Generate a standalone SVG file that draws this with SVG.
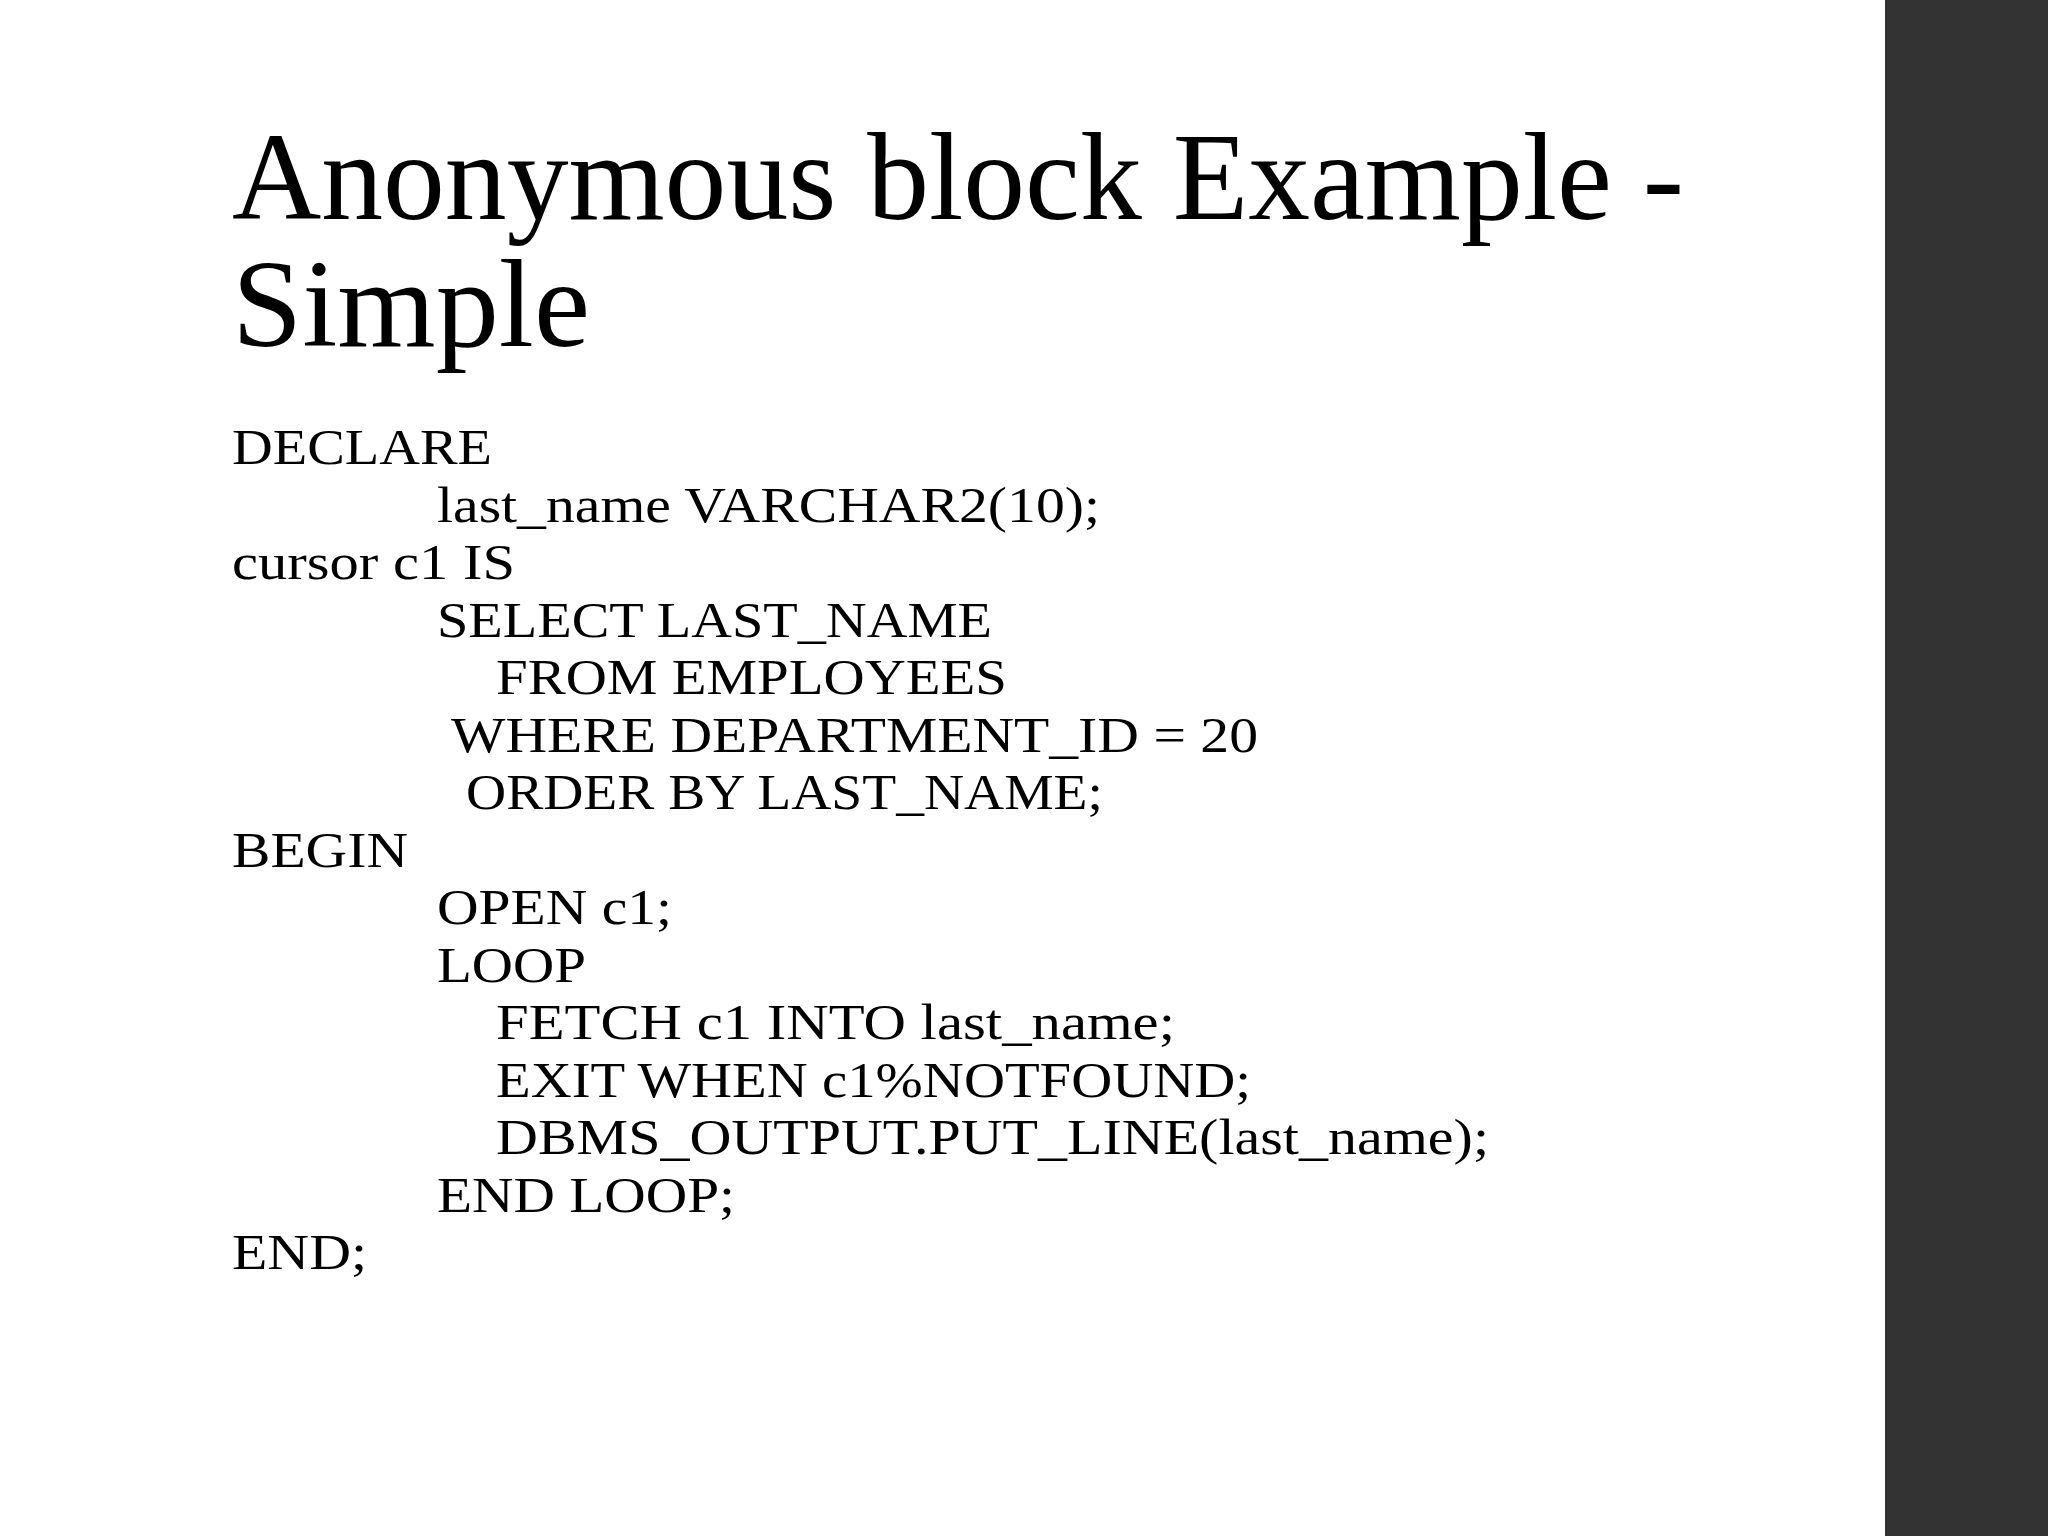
<svg xmlns="http://www.w3.org/2000/svg" width="2048" height="1536" viewBox="0 0 2048 1536">
<style>
.t{font-family:"Liberation Serif","DejaVu Serif",serif;fill:#000}
.h{font-size:124px}
.c{font-size:50px}
</style>
<rect x="0" y="0" width="2048" height="1536" fill="#fff"/>
<rect x="1885" y="0" width="163" height="1536" fill="#333"/>
<g id="title">
<text class="t h" x="232" y="219" textLength="1452" lengthAdjust="spacingAndGlyphs">Anonymous block Example -</text>
<text class="t h" x="232" y="346" textLength="358" lengthAdjust="spacingAndGlyphs">Simple</text>
</g>
<g id="code" class="t c">
<text x="232" y="464" textLength="260" lengthAdjust="spacingAndGlyphs">DECLARE</text>
<text x="437" y="521.5" textLength="663" lengthAdjust="spacingAndGlyphs">last_name VARCHAR2(10);</text>
<text x="232" y="579" textLength="283" lengthAdjust="spacingAndGlyphs">cursor c1 IS</text>
<text x="437" y="636.5" textLength="555" lengthAdjust="spacingAndGlyphs">SELECT LAST_NAME</text>
<text x="496" y="694" textLength="511" lengthAdjust="spacingAndGlyphs">FROM EMPLOYEES</text>
<text x="451" y="751.5" textLength="807" lengthAdjust="spacingAndGlyphs">WHERE DEPARTMENT_ID = 20</text>
<text x="466" y="809" textLength="637" lengthAdjust="spacingAndGlyphs">ORDER BY LAST_NAME;</text>
<text x="232" y="866.5" textLength="176" lengthAdjust="spacingAndGlyphs">BEGIN</text>
<text x="437" y="924" textLength="235" lengthAdjust="spacingAndGlyphs">OPEN c1;</text>
<text x="437" y="981.5" textLength="149" lengthAdjust="spacingAndGlyphs">LOOP</text>
<text x="496" y="1039" textLength="679" lengthAdjust="spacingAndGlyphs">FETCH c1 INTO last_name;</text>
<text x="496" y="1096.5" textLength="755" lengthAdjust="spacingAndGlyphs">EXIT WHEN c1%NOTFOUND;</text>
<text x="496" y="1154" textLength="993" lengthAdjust="spacingAndGlyphs">DBMS_OUTPUT.PUT_LINE(last_name);</text>
<text x="437" y="1211.5" textLength="298" lengthAdjust="spacingAndGlyphs">END LOOP;</text>
<text x="232" y="1269" textLength="135" lengthAdjust="spacingAndGlyphs">END;</text>
</g>
</svg>
